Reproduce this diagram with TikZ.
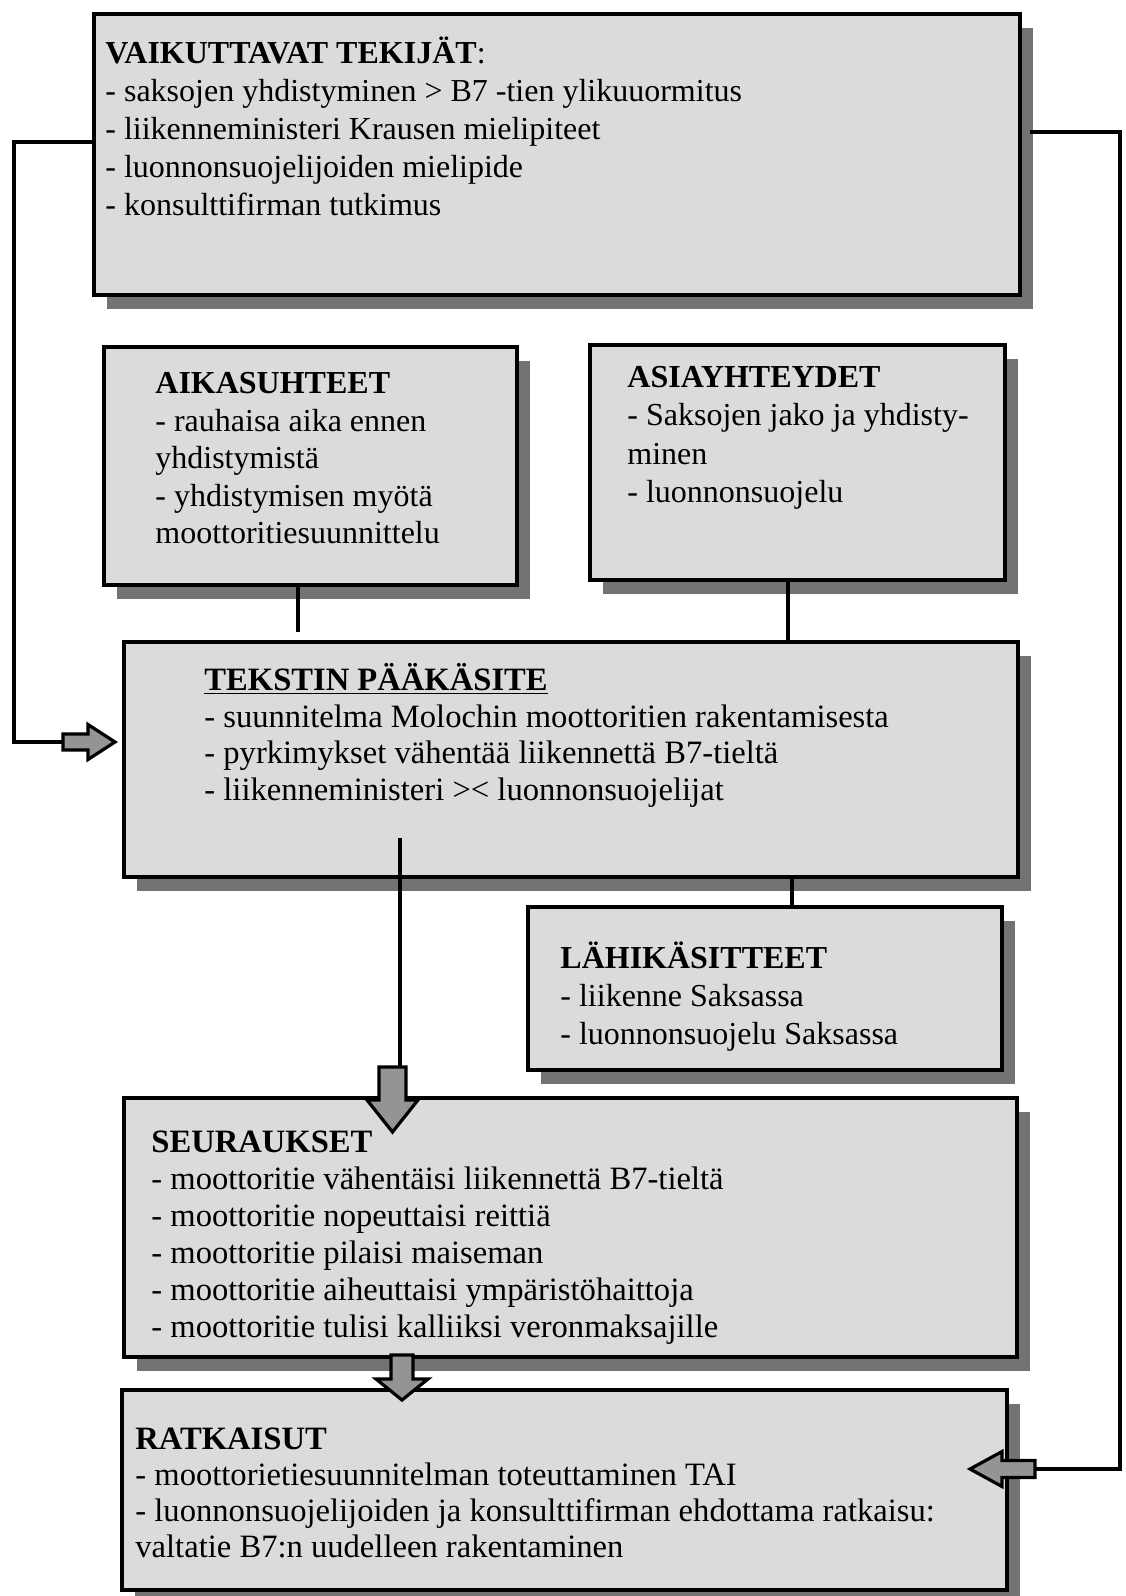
\documentclass[tikz,border=0pt]{standalone}
\usepackage{fontspec}
\setmainfont{Liberation Serif}
\usetikzlibrary{shadows}

\tikzset{
  panel/.style={draw=black, line width=1.8pt, fill=black!14, anchor=north west,
    inner sep=0pt, drop shadow={shadow xshift=6.5pt, shadow yshift=-7pt,
    fill=black!55, opacity=1}},
  paneltext/.style={anchor=north west, align=left, inner sep=0pt,
    font=\fontsize{16}{18.5}\selectfont},
  link/.style={line width=1.7pt},
  blockarrow/.style={draw=black, line width=1.6pt, fill=black!42, line join=miter},
}
\newcommand{\headstrut}{\rule{0pt}{14pt}}

\begin{document}
\begin{tikzpicture}[x=0.5pt, y=-0.5pt]
\useasboundingbox (0,0) rectangle (1125,1596);
\fill[white] (0,0) rectangle (1125,1596);

% boxes
\node[panel, minimum width=463pt, minimum height=140.5pt] (vaik) at (92,12) {};
\node[panel, minimum width=206.5pt, minimum height=119pt] (aika) at (102,345) {};
\node[panel, minimum width=207.5pt, minimum height=117.5pt] (asia) at (588,343) {};
\node[panel, minimum width=447pt, minimum height=117.5pt] (tekst) at (122,640) {};
\node[panel, minimum width=237pt, minimum height=81.5pt] (lahi) at (526,905) {};
\node[panel, minimum width=446.5pt, minimum height=129.5pt] (seur) at (122,1096) {};
\node[panel, minimum width=442.5pt, minimum height=100pt] (ratk) at (120,1388) {};

% texts
\node[paneltext, font=\fontsize{16}{19}\selectfont] (vaikt) at (105,35) {\headstrut\textbf{VAIKUTTAVAT TEKIJÄT}:\\
- saksojen yhdistyminen > B7 -tien ylikuuormitus\\
- liikenneministeri Krausen mielipiteet\\
- luonnonsuojelijoiden mielipide\\
- konsulttifirman tutkimus};
\node[paneltext, font=\fontsize{16}{18.8}\selectfont] (aikat) at (155,365) {\headstrut\textbf{AIKASUHTEET}\\
- rauhaisa aika ennen\\
yhdistymistä\\
- yhdistymisen myötä\\
moottoritiesuunnittelu};
\node[paneltext, font=\fontsize{16}{19.2}\selectfont] (asiat) at (627,359) {\headstrut\textbf{ASIAYHTEYDET}\\
- Saksojen jako ja yhdisty-\\
minen\\
- luonnonsuojelu};
\node[paneltext, font=\fontsize{16.3}{18.3}\selectfont] (tekstt) at (204,662) {\headstrut\textbf{\underline{TEKSTIN PÄÄKÄSITE}}\\
- suunnitelma Molochin moottoritien rakentamisesta\\
- pyrkimykset vähentää liikennettä B7-tieltä\\
- liikenneministeri >< luonnonsuojelijat};
\node[paneltext, font=\fontsize{16}{19}\selectfont] (lahit) at (560,940) {\headstrut\textbf{LÄHIKÄSITTEET}\\
- liikenne Saksassa\\
- luonnonsuojelu Saksassa};
\node[paneltext, font=\fontsize{16.3}{18.5}\selectfont] (seurt) at (151,1124) {\headstrut\textbf{SEURAUKSET}\\
- moottoritie vähentäisi liikennettä B7-tieltä\\
- moottoritie nopeuttaisi reittiä\\
- moottoritie pilaisi maiseman\\
- moottoritie aiheuttaisi ympäristöhaittoja\\
- moottoritie tulisi kalliiksi veronmaksajille};
\node[paneltext, font=\fontsize{16.3}{18}\selectfont] (ratkt) at (135,1421) {\headstrut\textbf{RATKAISUT}\\
- moottorietiesuunnitelman toteuttaminen TAI\\
- luonnonsuojelijoiden ja konsulttifirman ehdottama ratkaisu:\\
valtatie B7:n uudelleen rakentaminen};

% routing points
\coordinate (lk) at (14,142);
\coordinate (rk) at (1120,132);
\coordinate (rs) at (1030,132);
\coordinate (ak) at (298,0);
\coordinate (sk) at (788,0);
\coordinate (lhk) at (792,0);
\coordinate (ti) at (400,838);
\coordinate (la) at (63,742);
\coordinate (ra) at (1035,1469);
\coordinate (da) at (392.5,1067);
\coordinate (db) at (402,1355);

% plain connectors
\draw[link] (aika.south -| ak) -- ([yshift=4pt]tekst.north -| ak);
\draw[link] (asia.south -| sk) -- (tekst.north -| sk);
\draw[link] (tekst.south -| lhk) -- (lahi.north -| lhk);
\draw[link] (ti) -- (ti |- da);
\draw[link] (vaik.west |- lk) -- (lk) |- (la);
\draw[link] (rs) -- (rk) |- (ra);

% block arrows
\draw[blockarrow] ([shift={(0,-8)}]la) -- ++(25,0) -- ++(0,-9.5) -- ++(27,17.5)
  -- ++(-27,17.5) -- ++(0,-9.5) -- ++(-25,0) -- cycle;
\draw[blockarrow] ([shift={(0,-8.5)}]ra) -- ++(-33,0) -- ++(0,-9) -- ++(-32,17.5)
  -- ++(32,17.5) -- ++(0,-9) -- ++(33,0) -- cycle;
\draw[blockarrow] ([shift={(-13.5,0)}]da) -- ++(27,0) -- ++(0,33) -- ++(12,0)
  -- ++(-25.5,32) -- ++(-25.5,-32) -- ++(12,0) -- cycle;
\draw[blockarrow] ([shift={(-11,0)}]db) -- ++(22,0) -- ++(0,24) -- ++(15,0)
  -- ++(-26,21) -- ++(-26,-21) -- ++(15,0) -- cycle;
\end{tikzpicture}
\end{document}
